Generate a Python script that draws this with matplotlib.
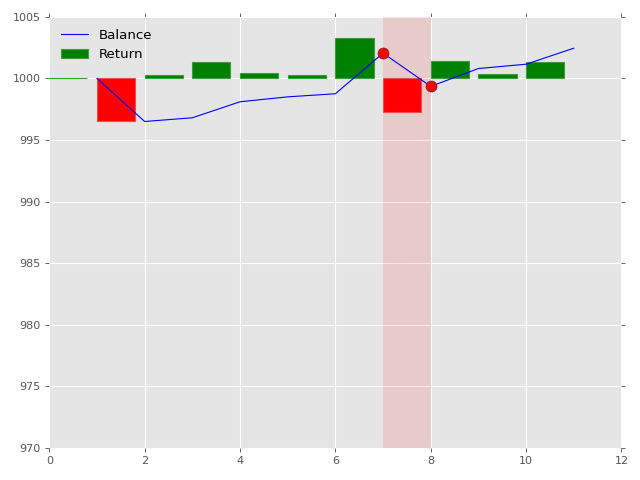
import matplotlib
matplotlib.use('Agg')
import matplotlib.pyplot as plt
import numpy as np

# balance curve (x = 1..11)
steps = [1, 2, 3, 4, 5, 6, 7, 8, 9, 10, 11]
balance = [1000.0, 996.5, 996.8, 998.1, 998.5, 998.75, 1002.05, 999.35, 1000.8, 1001.15, 1002.45]

# per-step returns (bars start at x = 0..10)
bar_pos = [0, 1, 2, 3, 4, 5, 6, 7, 8, 9, 10]
returns = [0.0, -3.5, 0.3, 1.3, 0.4, 0.25, 3.3, -2.7, 1.45, 0.35, 1.3]

# highlighted trade
mark_x = [7, 8]
mark_y = [1002.05, 999.35]
span = (7, 8)

plt.rcParams['font.family'] = 'DejaVu Sans'

fig, ax = plt.subplots(figsize=(8, 6), dpi=80)
fig.subplots_adjust(left=0.077, right=0.971, bottom=0.067, top=0.965)
ax.set_facecolor('#E5E5E5')
for s in ax.spines.values():
    s.set_visible(False)
ax.grid(True, color='white', linewidth=1)
ax.set_axisbelow(True)
ax.tick_params(direction='out', length=4, color='#555555', labelcolor='#555555',
               labelsize=10, top=True, right=True)

colors = ['red' if r < 0 else 'green' for r in returns]
edges = ['#e85050' if r < 0 else '#3d9a3d' for r in returns]
ax.bar(bar_pos, returns, width=0.8, bottom=1000, align='edge', color=colors,
       edgecolor=edges, linewidth=1, label='Return', zorder=2)
ax.plot(steps, balance, color='blue', linewidth=1, label='Balance', zorder=3)
ax.axvspan(*span, color='red', alpha=0.11, linewidth=0, zorder=1)
ax.plot(mark_x, mark_y, 'o', color='red', markersize=10, markeredgecolor='#333333',
        markeredgewidth=0.5, zorder=4)

ax.set_xlim(0, 12)
ax.set_ylim(970, 1005)
ax.set_xticks(np.arange(0, 13, 2))
ax.set_yticks(np.arange(970, 1006, 5))

leg = ax.legend(loc='upper left', frameon=False, fontsize=12)

fig.savefig('out.png', dpi=80)
